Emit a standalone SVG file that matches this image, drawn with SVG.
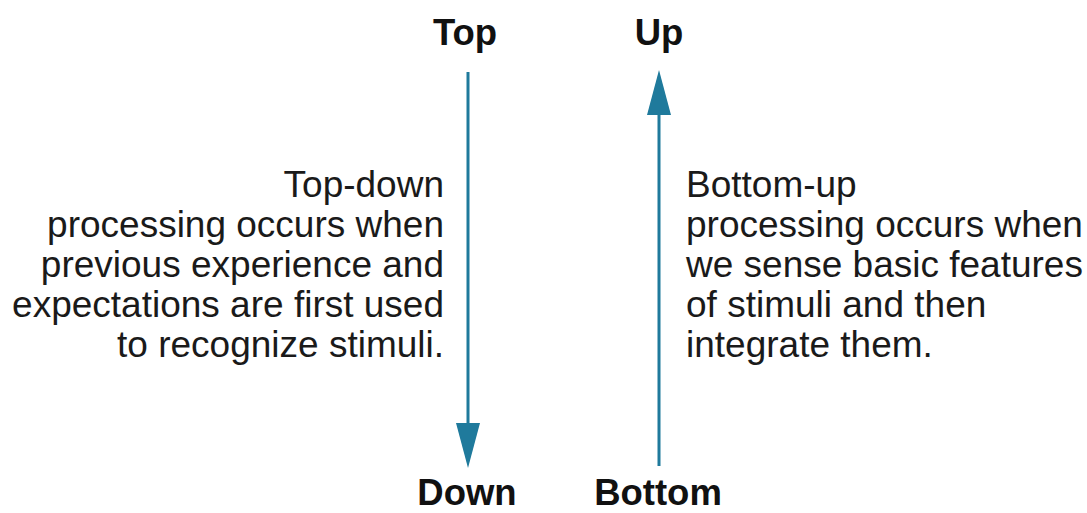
<svg xmlns="http://www.w3.org/2000/svg" width="1087" height="513" viewBox="0 0 1087 513">
  <style>
    .head { font-family: "Liberation Sans", Arial, sans-serif; font-weight: bold; font-size: 36.5px; fill: #111; text-anchor: middle; }
    .body { font-family: "Liberation Sans", Arial, sans-serif; font-size: 37px; fill: #1a1a1a; }
    .left { text-anchor: end; }
    .right { text-anchor: start; }
    .line { stroke: #1f7a9c; stroke-width: 3; fill: none; }
    .tip { fill: #1f7a9c; }
  </style>
  <rect width="1087" height="513" fill="#ffffff"/>

  <g id="top-label"><text class="head" x="465" y="45">Top</text></g>
  <g id="up-label"><text class="head" x="659" y="45">Up</text></g>
  <g id="down-label"><text class="head" x="467" y="505">Down</text></g>
  <g id="bottom-label"><text class="head" x="658" y="505">Bottom</text></g>

  <g id="top-down-text">
    <text class="body left" x="444" y="197">Top-down</text>
    <text class="body left" x="444" y="237">processing occurs when</text>
    <text class="body left" x="444" y="277">previous experience and</text>
    <text class="body left" x="444" y="317">expectations are first used</text>
    <text class="body left" x="444" y="357">to recognize stimuli.</text>
  </g>

  <g id="bottom-up-text">
    <text class="body right" x="686" y="197">Bottom-up</text>
    <text class="body right" x="686" y="237">processing occurs when</text>
    <text class="body right" x="686" y="277">we sense basic features</text>
    <text class="body right" x="686" y="317">of stimuli and then</text>
    <text class="body right" x="686" y="357">integrate them.</text>
  </g>

  <g id="connectors">
    <line class="line" x1="468" y1="72" x2="468" y2="425"/>
    <polygon class="tip" points="456,423 480,423 468,468"/>
    <line class="line" x1="659" y1="112" x2="659" y2="466"/>
    <polygon class="tip" points="647,115 671,115 659,70"/>
  </g>
</svg>
